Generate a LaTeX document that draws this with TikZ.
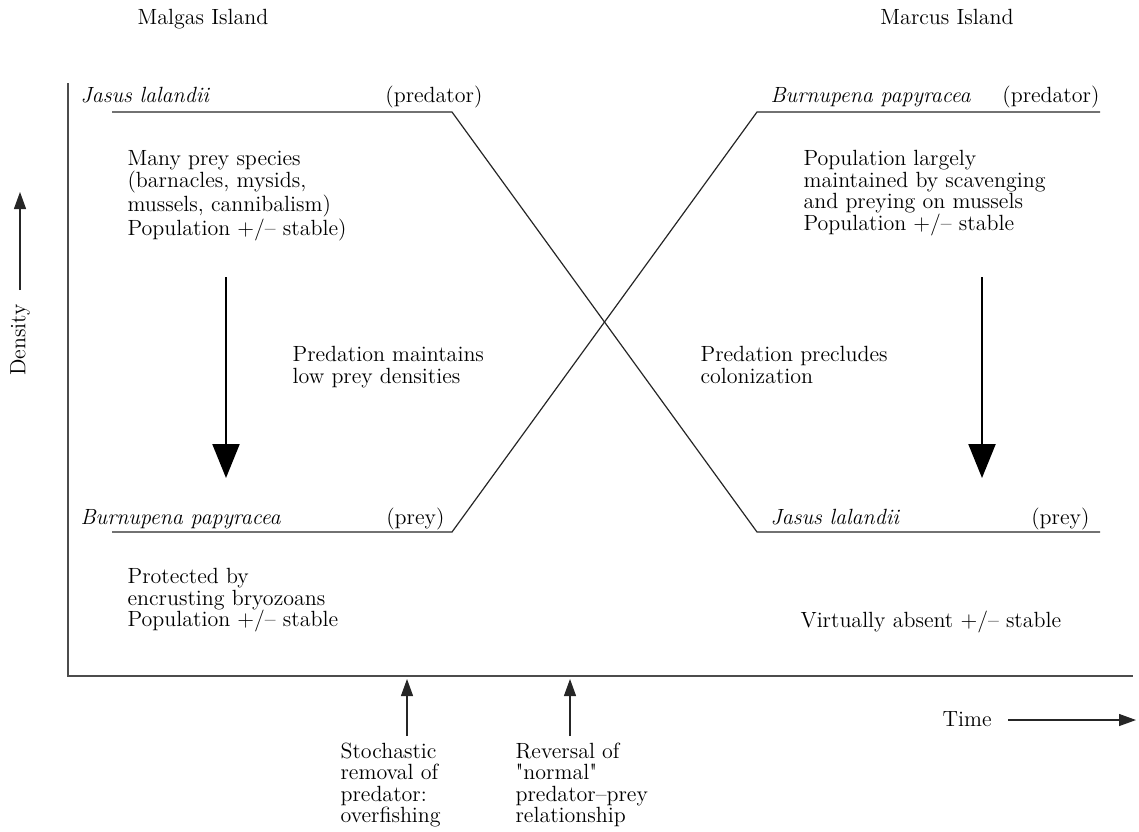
\documentclass[tikz,border=0pt]{standalone}
\usepackage{tikz}
\usetikzlibrary{arrows,arrows.meta}

\begin{document}
\begin{tikzpicture}[x=0.5pt,y=-0.5pt,semithick,
                    font=\fontsize{11}{10.75}\selectfont]
  \tikzstyle{every node}=[inner sep=0pt]
  \tikzstyle{txt}=[anchor=base west,align=left]
  \tikzstyle{block}=[anchor=north west,align=left]
  \tikzstyle{curve}=[draw=black!85,line width=0.6pt]
  \tikzstyle{axis}=[draw=black!70,line width=0.75pt]
  \tikzstyle{bigarrow}=[-{Triangle[width=13.5pt,length=17pt]},line width=1.1pt]
  \tikzstyle{smallarrow}=[-{Triangle[width=6pt,length=8.5pt]},black!85,line width=0.6pt]

  \useasboundingbox (0,0) rectangle (1139,831);

  % islands
  \node (malgas) at (203,24) [anchor=base] {Malgas Island};
  \node (marcus) at (947,24) [anchor=base] {Marcus Island};

  % axes
  \coordinate (origin) at (68,676);
  \coordinate (ytop)   at (68,83);
  \coordinate (xend)   at (1133,676);
  \draw[axis] (ytop) -- (origin) -- (xend);

  \node (density) at (20,340) [rotate=90] {Density};
  \coordinate (dlow) at (20,290);
  \coordinate (dtip) at (20,192);
  \draw[smallarrow] (dlow) -- (dtip);

  \node (time) at (942,726) [txt] {Time};
  \coordinate (tlow) at (1008,720);
  \coordinate (ttip) at (1136,720);
  \draw[smallarrow] (tlow) -- (ttip);

  % Jasus: predator -> prey
  \coordinate (jasA) at (112,112);
  \coordinate (jasB) at (452,112);
  \coordinate (jasC) at (757,532);
  \coordinate (jasD) at (1100,532);
  \draw[curve] (jasA) -- (jasB) -- (jasC) -- (jasD);

  % Burnupena: prey -> predator
  \coordinate (burA) at (112,532);
  \coordinate (burB) at (452,532);
  \coordinate (burC) at (757,112);
  \coordinate (burD) at (1100,112);
  \draw[curve] (burA) -- (burB) -- (burC) -- (burD);

  % species labels
  \node (jasus1) at (80,102)   [txt] {\textit{Jasus lalandii}};
  \node (pred1)  at (483,102)  [anchor=base east] {(predator)};
  \node (burn1)  at (770,102)  [txt] {\textit{Burnupena papyracea}};
  \node (pred2)  at (1100,102) [anchor=base east] {(predator)};
  \node (burn2)  at (80,524)   [txt] {\textit{Burnupena papyracea}};
  \node (prey1)  at (445,524)  [anchor=base east] {(prey)};
  \node (jasus2) at (770,524)  [txt] {\textit{Jasus lalandii}};
  \node (prey2)  at (1090,524) [anchor=base east] {(prey)};

  % notes
  \node (many) at (127,150) [block] {Many prey species\\(barnacles, mysids,\\mussels, cannibalism)\\Population +/\textendash\ stable)};
  \node (largely) at (803,150) [block] {Population largely\\maintained by scavenging\\and preying on mussels\\Population +/\textendash\ stable};
  \node (maintains) at (292,346) [block] {Predation maintains\\low prey densities};
  \node (precludes) at (700,346) [block] {Predation precludes\\colonization};
  \node (protected) at (127,568) [block] {Protected by\\encrusting bryozoans\\Population +/\textendash\ stable};
  \node (absent) at (800,627) [txt] {Virtually absent +/\textendash\ stable};

  % big arrows
  \coordinate (la) at (226,277);
  \coordinate (lb) at (226,478);
  \coordinate (ra) at (982,277);
  \coordinate (rb) at (982,478);
  \draw[bigarrow] (la) -- (lb);
  \draw[bigarrow] (ra) -- (rb);

  % events on the time axis
  \node (stoch) at (340,742) [block] {Stochastic\\removal of\\predator:\\overfishing};
  \node (revers) at (515,742) [block] {Reversal of\\\textquotedbl normal\textquotedbl\\predator\textendash prey\\relationship};
  \coordinate (ea) at (407,736);
  \coordinate (eb) at (407,679);
  \coordinate (fa) at (570,736);
  \coordinate (fb) at (570,679);
  \draw[smallarrow] (ea) -- (eb);
  \draw[smallarrow] (fa) -- (fb);
\end{tikzpicture}
\end{document}
